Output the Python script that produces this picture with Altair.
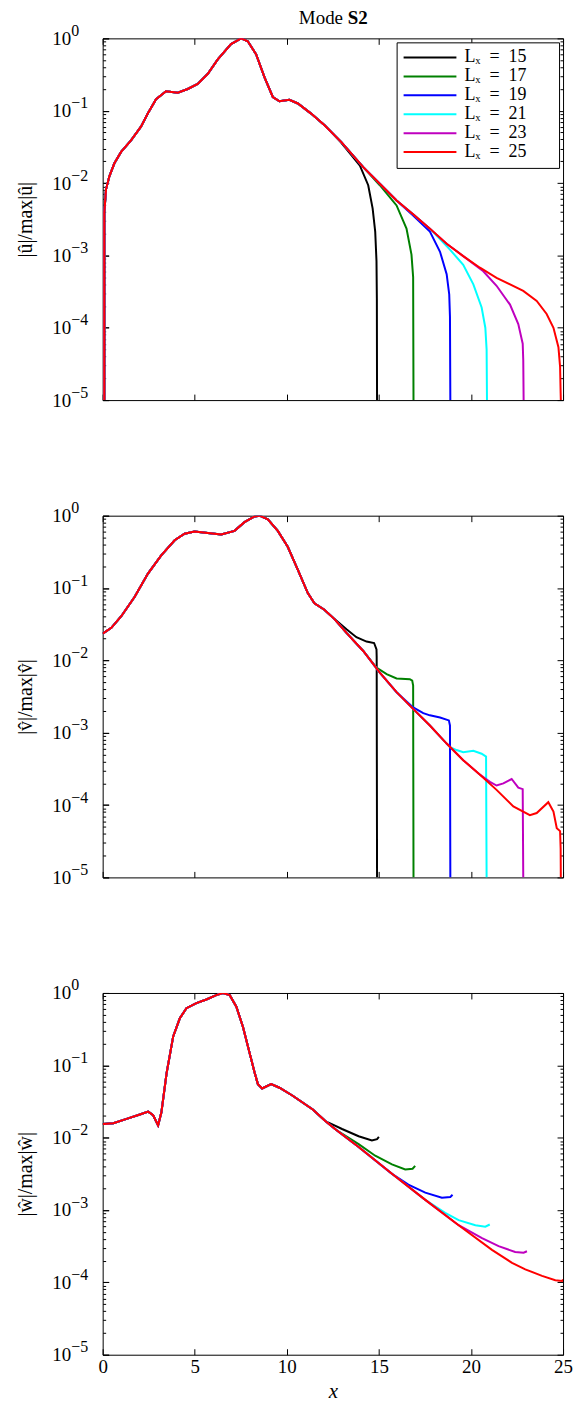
import altair as alt
import pandas as pd

# ---------------- categories / styling lists ----------------
LX = [15, 17, 19, 21, 23, 25]
SERIES = ["Lₓ\u2002=\u200215", "Lₓ\u2002=\u200217", "Lₓ\u2002=\u200219",
          "Lₓ\u2002=\u200221", "Lₓ\u2002=\u200223", "Lₓ\u2002=\u200225"]
LEGEND_PAD_TEXT = "\u2800\u2800"   # blank glyphs widening the legend box on the right
COLORS = ["#000000", "#008000", "#0000ff", "#00ffff", "#bf00bf", "#ff0000"]

X_TICKS = [0, 5, 10, 15, 20, 25]
Y_TICKS = [1e-5, 1e-4, 1e-3, 1e-2, 1e-1, 1.0]
Y_MINOR = [k * 10.0 ** d for d in range(-5, 0) for k in range(2, 10)]
TITLE_PLAIN = "Mode"
TITLE_BOLD = "S2"

# ---------------- panel 1 : |u| (values are log10 exponents) ----------------
U_RED_X = [0.09, 0.09, 0.18, 0.36, 0.63, 1.00, 1.54, 2.08, 2.45, 2.90, 3.44, 4.08, 4.62, 5.16,
           5.71, 6.25, 6.97, 7.52, 7.88, 8.33, 8.79, 9.24, 9.60, 10.14, 10.60, 11.32, 12.05,
           12.95, 14.15, 15.05, 15.96, 16.86, 17.77, 18.68, 19.58, 20.49, 21.39, 22.84, 23.57,
           24.11, 24.48, 24.75, 24.84, 24.87, 24.88]
U_RED_E = [-5.0, -2.41, -2.09, -1.91, -1.73, -1.57, -1.41, -1.22, -1.04, -0.84, -0.73, -0.75,
           -0.70, -0.63, -0.49, -0.29, -0.08, 0.0, -0.04, -0.22, -0.54, -0.81, -0.87, -0.85,
           -0.90, -1.04, -1.20, -1.43, -1.78, -2.01, -2.24, -2.43, -2.63, -2.84, -3.01, -3.17,
           -3.31, -3.49, -3.63, -3.81, -4.00, -4.27, -4.54, -4.90, -5.0]
U_TAILS = {
    15: (12.05, [12.95, 13.24, 13.97, 14.42, 14.66, 14.80, 14.87, 14.89, 14.90],
         [-1.44, -1.53, -1.76, -2.03, -2.35, -2.67, -3.08, -3.60, -5.0]),
    17: (14.15, [15.05, 15.96, 16.50, 16.77, 16.86, 16.88],
         [-2.03, -2.31, -2.63, -2.99, -3.30, -5.0]),
    19: (15.96, [16.86, 17.77, 18.32, 18.68, 18.82, 18.86, 18.88],
         [-2.45, -2.67, -2.95, -3.26, -3.54, -3.85, -5.0]),
    21: (17.77, [18.86, 19.58, 20.13, 20.58, 20.78, 20.85, 20.87],
         [-2.92, -3.13, -3.40, -3.72, -4.00, -4.30, -5.0]),
    23: (19.58, [20.67, 21.39, 22.12, 22.57, 22.81, 22.84, 22.86],
         [-3.22, -3.42, -3.68, -3.95, -4.22, -4.45, -5.0]),
}

# ---------------- panel 2 : |v| ----------------
V_RED_X = [0.0, 0.47, 1.01, 1.74, 2.46, 3.18, 3.91, 4.45, 4.99, 5.71, 6.44, 7.16, 7.70, 8.25,
           8.52, 8.97, 9.51, 10.05, 10.60, 11.14, 11.50, 12.04, 12.59, 13.24, 14.15, 15.05,
           15.96, 16.86, 17.77, 18.68, 19.58, 20.49, 21.39, 22.30, 23.20, 23.57, 24.20, 24.48,
           24.66, 24.84, 24.87, 24.88]
V_RED_E = [-1.63, -1.55, -1.39, -1.12, -0.80, -0.55, -0.34, -0.25, -0.22, -0.24, -0.26, -0.21,
           -0.09, -0.01, 0.0, -0.05, -0.21, -0.43, -0.75, -1.07, -1.21, -1.30, -1.43, -1.62,
           -1.87, -2.17, -2.44, -2.67, -2.90, -3.15, -3.38, -3.58, -3.79, -4.02, -4.14, -4.11,
           -3.96, -4.09, -4.32, -4.36, -4.60, -5.0]
V_TAILS = {
    15: (12.59, [13.24, 13.78, 14.33, 14.74, 14.87, 14.88, 14.90],
         [-1.57, -1.68, -1.74, -1.76, -1.85, -1.95, -5.0]),
    17: (14.15, [14.87, 15.42, 15.96, 16.68, 16.81, 16.86, 16.88],
         [-2.10, -2.19, -2.25, -2.26, -2.28, -2.35, -5.0]),
    19: (15.96, [16.86, 17.41, 17.77, 18.32, 18.80, 18.86, 18.88],
         [-2.65, -2.73, -2.76, -2.79, -2.83, -2.90, -5.0]),
    21: (18.68, [18.86, 19.22, 19.58, 20.13, 20.58, 20.82, 20.85],
         [-3.20, -3.24, -3.27, -3.25, -3.29, -3.33, -5.0]),
    23: (20.49, [20.76, 21.03, 21.39, 21.76, 22.21, 22.57, 22.81, 22.84],
         [-3.63, -3.68, -3.73, -3.70, -3.64, -3.76, -3.78, -5.0]),
}

# ---------------- panel 3 : |w| ----------------
W_RED_X = [0.0, 0.58, 1.30, 2.02, 2.47, 2.74, 3.01, 3.19, 3.47, 3.83, 4.19, 4.55, 5.09, 5.63,
           6.17, 6.53, 6.90, 7.26, 7.62, 7.98, 8.25, 8.43, 8.66, 9.15, 9.60, 10.32, 11.41,
           12.09, 12.67, 13.90, 15.71, 17.52, 19.33, 21.14, 22.23, 22.95, 23.86, 24.58, 24.95,
           25.0]
W_RED_E = [-1.81, -1.80, -1.74, -1.68, -1.64, -1.69, -1.83, -1.65, -1.11, -0.60, -0.35, -0.21,
           -0.14, -0.09, -0.03, 0.0, -0.03, -0.19, -0.47, -0.83, -1.10, -1.26, -1.32, -1.26,
           -1.31, -1.42, -1.61, -1.77, -1.89, -2.13, -2.50, -2.86, -3.21, -3.55, -3.73, -3.82,
           -3.91, -3.97, -3.98, -3.96]
W_TAILS = {
    15: (12.09, [13.00, 13.90, 14.62, 14.90, 15.00], [-1.88, -1.98, -2.04, -2.02, -1.99]),
    17: (12.67, [13.90, 14.80, 15.71, 16.43, 16.83, 16.97], [-2.09, -2.25, -2.37, -2.44, -2.43, -2.39]),
    19: (15.71, [16.60, 17.52, 18.42, 18.88, 19.00], [-2.65, -2.76, -2.83, -2.82, -2.79]),
    21: (17.52, [18.60, 19.33, 20.24, 20.78, 21.02], [-3.04, -3.14, -3.21, -3.23, -3.20]),
    23: (19.33, [20.60, 21.50, 22.40, 22.86, 23.04], [-3.39, -3.50, -3.58, -3.59, -3.57]),
}


def build(red_x, red_e, tails):
    rows = []
    for lab, L in zip(SERIES, LX):
        if L == 25:
            xs, es = list(red_x), list(red_e)
        else:
            cut, tx, te = tails[L]
            xs = [x for x in red_x if x <= cut] + tx
            es = [e for x, e in zip(red_x, red_e) if x <= cut] + te
        for i, (x, e) in enumerate(zip(xs, es)):
            rows.append({"x": x, "y": 10.0 ** e, "series": lab + LEGEND_PAD_TEXT, "i": i})
    return pd.DataFrame(rows)


FONT = "Liberation Serif"
MAJ, MIN = 6, 3
W, H = 462, 363
EXP_PAD = 32
BASE_EXPR = "'10'"
EXP_EXPR = "['0','\u22121','\u22122','\u22123','\u22124','\u22125'][round(-log(datum.value)/LN10)]"
FRAME = pd.DataFrame({"x": [0, 25], "y": [1e-5, 1.0]})
TITLE_Y = -21
LEGEND_DOMAIN = [s + LEGEND_PAD_TEXT for s in SERIES]


def panel(df, ytitle, first=False, last=False):
    xs = alt.Scale(domain=[0, 25], nice=False, zero=False)
    ys = alt.Scale(type="log", domain=[1e-5, 1.0], nice=False)

    xkw = dict(orient="bottom", values=X_TICKS, offset=-MAJ, tickSize=MAJ, domain=False,
               grid=False, tickColor="black", labels=last)
    if last:
        xkw.update(labelFont=FONT, labelFontSize=19, labelColor="black", labelPadding=3,
                   labelFlush=False, format="d", title="x", titleFont=FONT, titleFontSize=21,
                   titleFontStyle="italic", titleFontWeight="normal", titleColor="black",
                   titlePadding=4)
    else:
        xkw.update(title=None)
    xbottom = alt.Axis(**xkw)

    # major ticks + mantissa "10" of the labels
    yleft = alt.Axis(orient="left", values=Y_TICKS, offset=-MAJ, tickSize=MAJ, domain=False,
                     grid=False, labelExpr=BASE_EXPR, labelFont=FONT, labelFontSize=19,
                     labelColor="black", labelPadding=EXP_PAD, labelAlign="right",
                     labelFlush=False, labelOverlap=False, tickColor="black", title=ytitle,
                     titleFont=FONT, titleFontSize=20, titleFontWeight="normal",
                     titleColor="black", titlePadding=16)
    # exponents of the labels
    yexp = alt.Axis(orient="left", values=Y_TICKS, offset=-MAJ, tickSize=MAJ, domain=False,
                    grid=False, labelExpr=EXP_EXPR, labelFont=FONT, labelFontSize=16,
                    labelColor="black", labelPadding=EXP_PAD, labelAlign="left",
                    labelOffset=-8, labelFlush=False, labelOverlap=False, tickColor="black",
                    title=None)

    color_kw = dict(scale=alt.Scale(domain=LEGEND_DOMAIN, range=COLORS), sort=LEGEND_DOMAIN)
    if first:
        color_kw["legend"] = alt.Legend(
            title=None, orient="top-right", offset=4, strokeColor="black", fillColor="white",
            padding=6, symbolType="stroke", symbolSize=2809, symbolStrokeWidth=2,
            labelFont=FONT, labelFontSize=18, labelColor="black", clipHeight=18.3,
            rowPadding=0, labelOffset=7, cornerRadius=0, labelLimit=250)
    else:
        color_kw["legend"] = None

    lines = alt.Chart(df).mark_line(strokeWidth=2, clip=True).encode(
        x=alt.X("x:Q", scale=xs, axis=xbottom),
        y=alt.Y("y:Q", scale=ys, axis=yleft),
        color=alt.Color("series:N", **color_kw),
        order=alt.Order("i:Q"),
    )

    def ghost(xaxis, yaxis):
        return alt.Chart(FRAME).mark_point(opacity=0, size=1).encode(
            x=alt.X("x:Q", scale=xs, axis=xaxis),
            y=alt.Y("y:Q", scale=ys, axis=yaxis),
        )

    yminor_left = alt.Axis(orient="left", values=Y_MINOR, offset=-MIN, tickSize=MIN,
                           domain=False, grid=False, labels=False, title=None, tickColor="black")
    yright = alt.Axis(orient="right", values=Y_TICKS, offset=-MAJ, tickSize=MAJ,
                      domain=False, grid=False, labels=False, title=None, tickColor="black")
    yminor_right = alt.Axis(orient="right", values=Y_MINOR, offset=-MIN, tickSize=MIN,
                            domain=False, grid=False, labels=False, title=None, tickColor="black")

    tkw = dict(orient="top", values=X_TICKS, offset=-MAJ, tickSize=MAJ, domain=False,
               grid=False, labels=False, tickColor="black")
    if first:
        tkw.update(title=TITLE_PLAIN, titleX=W / 2 + 9.7, titleY=TITLE_Y, titleAlign="right",
                   titleBaseline="alphabetic", titleFont=FONT, titleFontSize=19,
                   titleFontWeight="normal", titleColor="black")
    else:
        tkw.update(title=None)
    xtop = alt.Axis(**tkw)

    layers = [
        lines,
        ghost(None, yexp),
        ghost(None, yminor_left),
        ghost(xtop, yright),
        ghost(None, yminor_right),
    ]
    if first:
        xtop_bold = alt.Axis(orient="top", values=X_TICKS, offset=-MAJ, ticks=False,
                             domain=False, grid=False, labels=False, title=TITLE_BOLD,
                             titleX=W / 2 + 14.4, titleY=TITLE_Y, titleAlign="left",
                             titleBaseline="alphabetic", titleFont=FONT, titleFontSize=19,
                             titleFontWeight="bold", titleColor="black")
        layers.append(ghost(xtop_bold, None))

    return alt.layer(*layers).resolve_axis(x="independent", y="independent").properties(
        width=W, height=H)


p1 = panel(build(U_RED_X, U_RED_E, U_TAILS), "|û|/max|û|", first=True)
p2 = panel(build(V_RED_X, V_RED_E, V_TAILS), "|v̂|/max|v̂|")
p3 = panel(build(W_RED_X, W_RED_E, W_TAILS), "|ŵ|/max|ŵ|", last=True)

chart = (
    alt.vconcat(p1, p2, p3, spacing=116, bounds="flush")
    .resolve_scale(color="independent")
    .resolve_legend(color="independent")
    .properties(padding={"left": 7, "top": -3, "right": 0, "bottom": 0})
    .configure_view(stroke="black", strokeWidth=1)
)

chart.save("out.html", embed_options={"renderer": "svg", "actions": False})
